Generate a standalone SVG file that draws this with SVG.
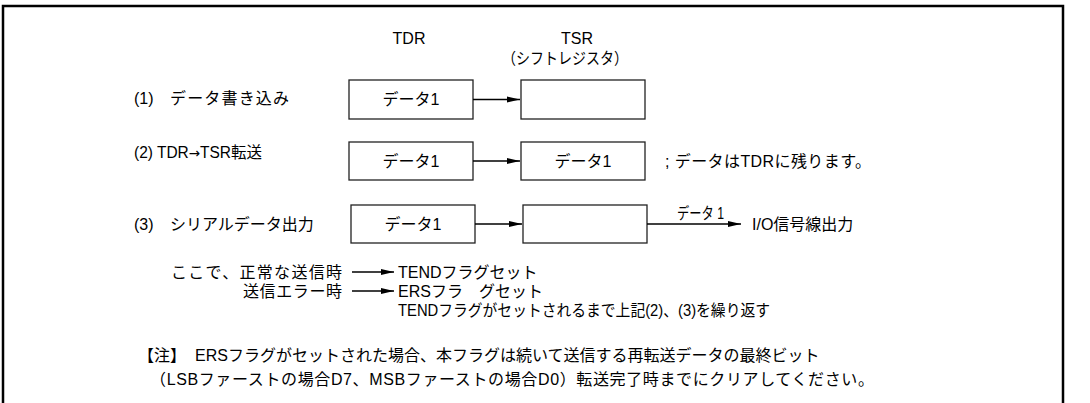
<svg xmlns="http://www.w3.org/2000/svg" width="1090" height="403" viewBox="0 0 1090 403">
<style>
text{font-family:"Liberation Sans","Noto Sans CJK JP",sans-serif;font-size:16px;fill:#000}
.box{fill:#fff;stroke:#222;stroke-width:1.3}
.ln{stroke:#000;stroke-width:1.3;fill:none}
.mid{text-anchor:middle}
.end{text-anchor:end}
.arw{font-family:"DejaVu Sans",sans-serif;font-size:14px}
</style>
<defs>
<marker id="ah" markerWidth="13" markerHeight="7" refX="13" refY="3.5" orient="auto" markerUnits="userSpaceOnUse">
<path d="M0,0.6 L13,3.5 L0,6.4 Z" fill="#000"/>
</marker>
</defs>
<rect x="3" y="6" width="1060" height="430" fill="#fff" stroke="#000" stroke-width="2.5"/>
<g id="headers">
<text class="mid" x="409" y="44">TDR</text>
<text class="mid" x="577" y="44">TSR</text>
<text class="mid" x="565" y="64" textLength="126" lengthAdjust="spacingAndGlyphs">（シフトレジスタ）</text>
</g>
<g id="row1">
<text x="134" y="104">(1)<tspan x="170" textLength="119" lengthAdjust="spacing">データ書き込み</tspan></text>
<rect class="box" x="349" y="80" width="124" height="39"/>
<text class="mid" x="411" y="105">データ1</text>
<rect class="box" x="521" y="80" width="124" height="39"/>
</g>
<g id="row2">
<text x="134" y="158" textLength="128" lengthAdjust="spacingAndGlyphs">(2) TDR<tspan class="arw">→</tspan>TSR転送</text>
<rect class="box" x="349" y="142" width="124" height="38"/>
<text class="mid" x="411" y="167">データ1</text>
<rect class="box" x="521" y="142" width="124" height="38"/>
<text class="mid" x="583" y="167">データ1</text>
<text x="665" y="167" textLength="206" lengthAdjust="spacing">; データはTDRに残ります。</text>
</g>
<g id="row3">
<text x="134" y="230">(3)<tspan x="170">シリアルデータ出力</tspan></text>
<rect class="box" x="351" y="205" width="124" height="38"/>
<text class="mid" x="413" y="230">データ1</text>
<rect class="box" x="523" y="205" width="124" height="38"/>
<text x="677" y="219" textLength="47" lengthAdjust="spacingAndGlyphs">データ 1</text>
<text x="752" y="230">I/O信号線出力</text>
</g>
<g id="connectors">
<line class="ln" x1="473" y1="99.5" x2="520" y2="99.5" marker-end="url(#ah)"/>
<line class="ln" x1="473" y1="161" x2="520" y2="161" marker-end="url(#ah)"/>
<line class="ln" x1="475" y1="224" x2="522" y2="224" marker-end="url(#ah)"/>
<line class="ln" x1="647" y1="224" x2="741" y2="224" marker-end="url(#ah)"/>
<line class="ln" x1="352" y1="272" x2="394" y2="272" marker-end="url(#ah)"/>
<line class="ln" x1="352" y1="291" x2="394" y2="291" marker-end="url(#ah)"/>
</g>
<g id="notes">
<text class="end" x="342" y="278" textLength="171" lengthAdjust="spacing">ここで、正常な送信時</text>
<text x="398" y="278">TENDフラグセット</text>
<text class="end" x="342" y="297" textLength="99" lengthAdjust="spacing">送信エラー時</text>
<text x="398" y="297">ERSフラ　グセット</text>
<text x="398" y="316" textLength="372" lengthAdjust="spacingAndGlyphs">TENDフラグがセットされるまで上記(2)、(3)を繰り返す</text>
<text x="138" y="361">【注】<tspan x="195">ERSフラグがセットされた場合、本フラグは続いて送信する再転送データの最終ビット</tspan></text>
<text x="150" y="385" textLength="724" lengthAdjust="spacing">（LSBファーストの場合D7、MSBファーストの場合D0）転送完了時までにクリアしてください。</text>
</g>
</svg>
